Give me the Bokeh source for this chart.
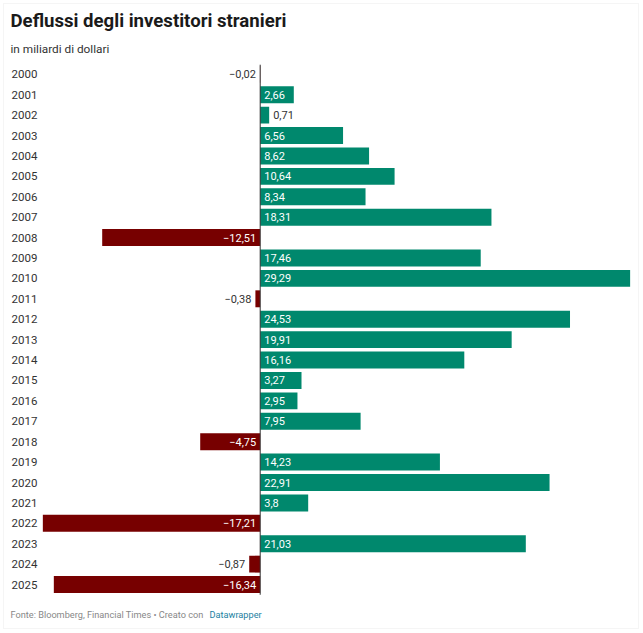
from bokeh.plotting import figure
from bokeh.models import Range1d, Label, BoxAnnotation, ColumnDataSource
from bokeh.core.properties import value
from bokeh.embed import file_html
from bokeh.resources import INLINE

# Net foreign investor flows, billions of dollars
years = [str(y) for y in range(2000, 2026)]
flows = [-0.02, 2.66, 0.71, 6.56, 8.62, 10.64, 8.34, 18.31, -12.51, 17.46,
         29.29, -0.38, 24.53, 19.91, 16.16, 3.27, 2.95, 7.95, -4.75, 14.23,
         22.91, 3.8, -17.21, 21.03, -0.87, -16.34]
value_labels = ["\u22120,02", "2,66", "0,71", "6,56", "8,62", "10,64", "8,34",
                "18,31", "\u221212,51", "17,46", "29,29", "\u22120,38", "24,53",
                "19,91", "16,16", "3,27", "2,95", "7,95", "\u22124,75", "14,23",
                "22,91", "3,8", "\u221217,21", "21,03", "\u22120,87", "\u221216,34"]

W, H = 643, 633
FONT = "Roboto"
GREEN = "#00886d"
RED = "#770000"

# pixel layout of the plotting area
zero_px = 259.7
px_per_unit = 12.63
row0_px = 73.8
row_step = 20.41

x_start = -zero_px / px_per_unit
x_end = (W - zero_px) / px_per_unit
y_top = -row0_px / row_step
y_bottom = (H - row0_px) / row_step

p = figure(width=W, height=H, output_backend="svg", toolbar_location=None,
           x_range=Range1d(x_start, x_end), y_range=Range1d(y_bottom, y_top),
           min_border=0, min_border_left=0, min_border_right=0,
           min_border_top=0, min_border_bottom=0)
p.axis.visible = False
p.grid.visible = False
p.outline_line_color = None
p.background_fill_color = "white"
p.border_fill_color = "white"

idx = list(range(len(years)))
colors = [GREEN if v >= 0 else RED for v in flows]
src = ColumnDataSource(dict(y=idx, right=flows, left=[0] * len(flows), color=colors))
p.hbar(y="y", left="left", right="right", height=0.83, color="color",
       line_color=None, source=src)

# zero baseline
p.segment(x0=[0], x1=[0], y0=[-0.47], y1=[len(years) - 0.5],
          line_color="#333333", line_width=1)

# value labels: inside the bar in white when it fits, outside otherwise
THRESH = 2.0
ins_pos = dict(x=[], y=[], t=[])
ins_neg = dict(x=[], y=[], t=[])
out_pos = dict(x=[], y=[], t=[])
out_neg = dict(x=[], y=[], t=[])
for i, (v, t) in enumerate(zip(flows, value_labels)):
    if abs(v) > THRESH:
        d = ins_pos if v > 0 else ins_neg
        d["x"].append(0)
    else:
        d = out_pos if v > 0 else out_neg
        d["x"].append(v)
    d["y"].append(i)
    d["t"].append(t)

common = dict(text_font=value(FONT), text_font_size="11px", text_baseline="middle")
p.text(x=ins_pos["x"], y=ins_pos["y"], text=ins_pos["t"], x_offset=4,
       text_align="left", text_color="white", **common)
p.text(x=ins_neg["x"], y=ins_neg["y"], text=ins_neg["t"], x_offset=-4,
       text_align="right", text_color="white", **common)
p.text(x=out_pos["x"], y=out_pos["y"], text=out_pos["t"], x_offset=4,
       text_align="left", text_color="#333333", **common)
p.text(x=out_neg["x"], y=out_neg["y"], text=out_neg["t"], x_offset=-4,
       text_align="right", text_color="#333333", **common)

# year labels down the left edge
p.text(x=[x_start] * len(years), y=idx, text=years, x_offset=11,
       text_align="left", text_baseline="middle", text_color="#333333",
       text_font=value(FONT), text_font_size="11.5px")

# title, subtitle, footer
p.add_layout(Label(x=10, y=H - 20, x_units="screen", y_units="screen",
                   text="Deflussi degli investitori stranieri", text_font=FONT,
                   text_font_size="18.6px", text_font_style="bold",
                   text_color="#1a1a1a", text_baseline="middle"))
p.add_layout(Label(x=10, y=H - 48, x_units="screen", y_units="screen",
                   text="in miliardi di dollari", text_font=FONT,
                   text_font_size="11.8px", text_color="#333333",
                   text_baseline="middle"))
p.add_layout(Label(x=10, y=H - 614, x_units="screen", y_units="screen",
                   text="Fonte: Bloomberg, Financial Times \u2022 Creato con",
                   text_font=FONT, text_font_size="9.2px", text_color="#888888",
                   text_baseline="middle"))
p.add_layout(Label(x=209, y=H - 614, x_units="screen", y_units="screen",
                   text="Datawrapper", text_font=FONT, text_font_size="9.2px",
                   text_color="#1d81a2", text_baseline="middle"))

# thin frame around the graphic
p.add_layout(BoxAnnotation(left=3, right=638, bottom=H - 628, top=H - 3,
                           left_units="screen", right_units="screen",
                           top_units="screen", bottom_units="screen",
                           fill_alpha=0, line_color="#dddddd", line_width=1))

open("out.html", "w").write(file_html(p, INLINE))
